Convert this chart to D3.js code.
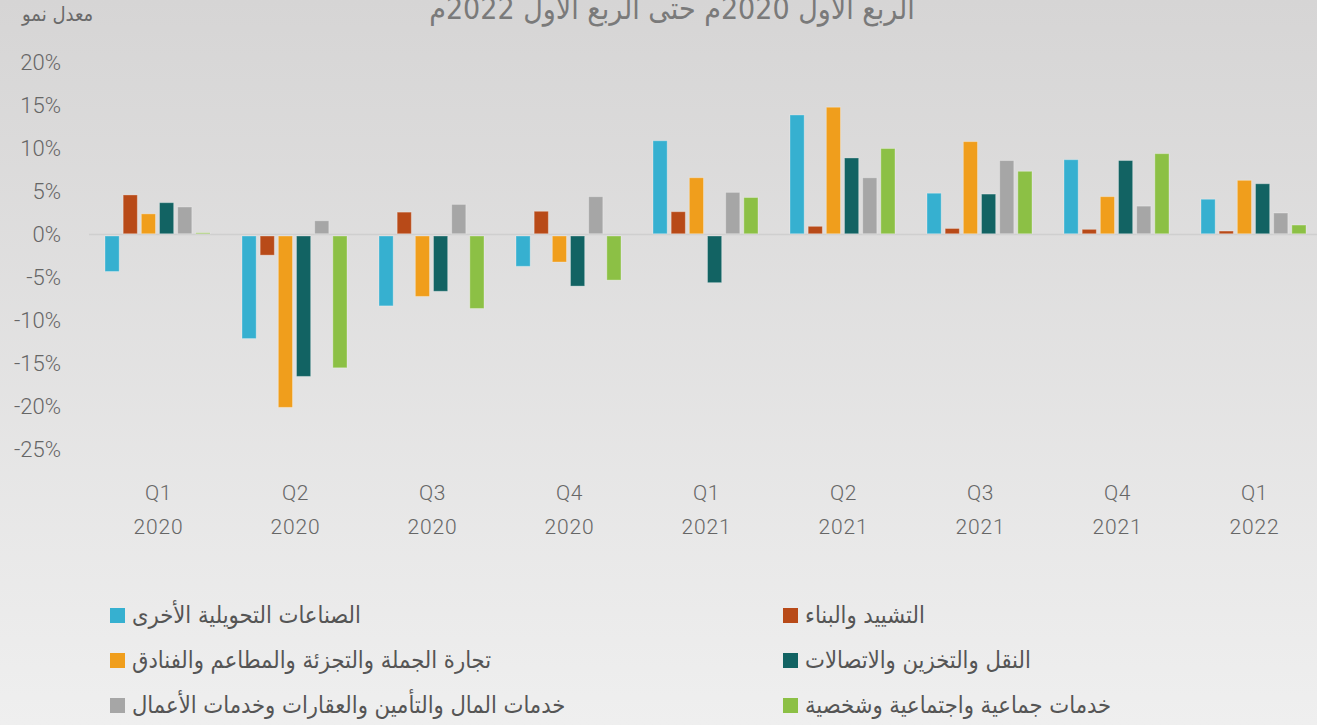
<!DOCTYPE html>
<html lang="ar">
<head>
<meta charset="utf-8">
<script src="https://cdn.jsdelivr.net/npm/d3@7"></script>
<style>
  html, body { margin: 0; padding: 0; }
  body { width: 1317px; height: 725px; overflow: hidden; }
  .tick-label { font-family: Roboto, sans-serif; font-weight: 300; fill: #666; }
  .ar { font-family: "DejaVu Sans Condensed", "DejaVu Sans", sans-serif; }
</style>
</head>
<body>
<svg id="chart"></svg>
<script>
// quarters on the x axis
let quarters = ["Q1", "Q2", "Q3", "Q4", "Q1", "Q2", "Q3", "Q4", "Q1"];
let years = ["2020", "2020", "2020", "2020", "2021", "2021", "2021", "2021", "2022"];

// growth rates (%) per sector
let manufacturing = [-4.3, -12.1, -8.3, -3.7, 10.9, 13.9, 4.8, 8.7, 4.1];
let construction = [4.6, -2.4, 2.6, 2.7, 2.65, 0.95, 0.7, 0.6, 0.4];
let trade = [2.4, -20.1, -7.2, -3.2, 6.6, 14.8, 10.8, 4.4, 6.3];
let transport = [3.7, -16.5, -6.6, -6.0, -5.6, 8.9, 4.7, 8.6, 5.9];
let finance = [3.2, 1.6, 3.5, 4.4, 4.9, 6.6, 8.6, 3.3, 2.5];
let community = [0.2, -15.5, -8.6, -5.3, 4.3, 10.0, 7.35, 9.4, 1.1];

let seriesNames = [
  "الصناعات التحويلية الأخرى",
  "التشييد والبناء",
  "تجارة الجملة والتجزئة والمطاعم والفنادق",
  "النقل والتخزين والاتصالات",
  "خدمات المال والتأمين والعقارات وخدمات الأعمال",
  "خدمات جماعية واجتماعية وشخصية"
];
let seriesValues = [manufacturing, construction, trade, transport, finance, community];
let colors = ["#36b0d0", "#b84a18", "#f09e1c", "#126363", "#a6a6a6", "#8cc045"];

let yTicks = [20, 15, 10, 5, 0, -5, -10, -15, -20, -25];

let title = "الربع الأول 2020م حتى الربع الأول 2022م";
let yTitle = "معدل نمو";

const width = 1317, height = 725;

let svg = d3.select("#chart").attr("width", width).attr("height", height);

// background gradient
let grad = svg.append("defs").append("linearGradient")
  .attr("id", "bg").attr("x1", 0).attr("y1", 0).attr("x2", 0).attr("y2", 1);
grad.append("stop").attr("offset", "0%").attr("stop-color", "#d6d5d5");
grad.append("stop").attr("offset", "100%").attr("stop-color", "#efefef");
svg.append("rect").attr("width", width).attr("height", height).attr("fill", "url(#bg)");

let y = d3.scaleLinear().domain([-25, 20]).range([449.5, 62.5]);

let groups = quarters.map((q, i) => i);
let x0 = d3.scaleBand().domain(groups).range([89, 1322]);
let x1 = d3.scaleBand().domain(d3.range(seriesNames.length)).range([16, 121]).paddingInner(0.22);

// titles (the chart title runs off the top edge, as in the source)
svg.append("text")
  .classed("ar", true)
  .attr("x", 672).attr("y", 19)
  .attr("text-anchor", "middle")
  .attr("font-size", 30)
  .attr("fill", "#7a7a7a")
  .text(title);

svg.append("text")
  .classed("ar", true)
  .attr("x", 22).attr("y", 21)
  .attr("font-size", 20)
  .attr("fill", "#6a6a6a")
  .text(yTitle);

// y axis labels
svg.append("g").selectAll("text")
  .data(yTicks)
  .enter()
  .append("text")
  .classed("tick-label", true)
  .attr("x", 61)
  .attr("y", d => y(d))
  .attr("dy", "0.36em")
  .attr("text-anchor", "end")
  .attr("font-size", 22)
  .text(d => d + "%");

// zero line
svg.append("line")
  .attr("x1", 89).attr("x2", width)
  .attr("y1", y(0)).attr("y2", y(0))
  .attr("stroke", "#cfcfcf")
  .attr("stroke-width", 1.5);

// bars
let rows = [];
groups.forEach(g => {
  seriesValues.forEach((vals, s) => rows.push({ g: g, s: s, v: vals[g] }));
});

svg.append("g").selectAll("rect")
  .data(rows)
  .enter()
  .append("rect")
  .attr("x", d => x0(d.g) + x1(d.s))
  .attr("width", x1.bandwidth())
  .attr("y", d => d.v >= 0 ? y(d.v) : y(0) + 1.5)
  .attr("height", d => d.v >= 0 ? y(0) - y(d.v) - 0.75 : y(d.v) - y(0) - 1.5)
  .attr("fill", d => colors[d.s])
  .attr("stroke", "rgba(255,255,255,0.3)")
  .attr("stroke-width", 1);

// x labels
let xl = svg.append("g").selectAll("g")
  .data(groups)
  .enter()
  .append("g")
  .attr("transform", d => `translate(${x0(d) + x0.bandwidth() / 2 + 1},0)`);

xl.append("text")
  .classed("tick-label", true)
  .attr("y", 499.5)
  .attr("text-anchor", "middle")
  .attr("font-size", 21)
  .attr("letter-spacing", 0.5)
  .text(d => quarters[d]);

xl.append("text")
  .classed("tick-label", true)
  .attr("y", 534)
  .attr("text-anchor", "middle")
  .attr("font-size", 21)
  .attr("letter-spacing", 0.8)
  .text(d => years[d]);

// legend: two columns, row-major
let legend = svg.append("g").selectAll("g")
  .data(seriesNames)
  .enter()
  .append("g")
  .attr("transform", (d, i) => `translate(${i % 2 === 0 ? 110 : 783},${608 + Math.floor(i / 2) * 45})`);

legend.append("rect")
  .attr("width", 15).attr("height", 15)
  .attr("fill", (d, i) => colors[i]);

legend.append("text")
  .classed("ar", true)
  .attr("x", 22)
  .attr("y", 15)
  .attr("font-size", 23.5)
  .attr("fill", "#555")
  .text(d => d);
</script>
</body>
</html>
